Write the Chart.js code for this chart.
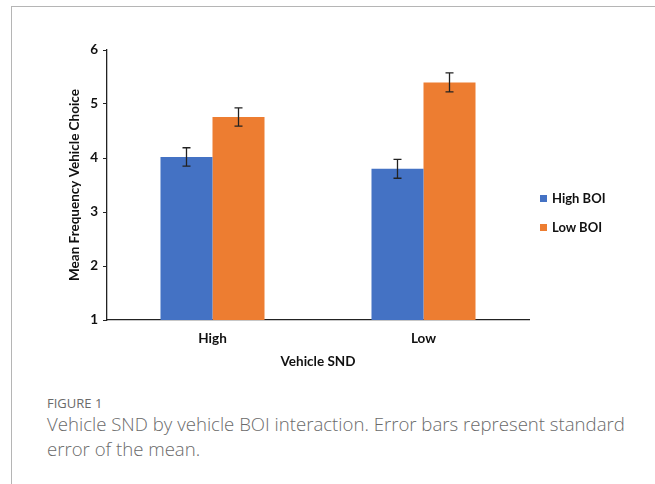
<!DOCTYPE html>
<html>
<head>
<meta charset="utf-8">
<script src="https://cdn.jsdelivr.net/npm/chart.js@4/dist/chart.umd.min.js"></script>
<style>
  html, body { margin: 0; padding: 0; background: #fff; }
  body { width: 655px; height: 484px; position: relative; overflow: hidden; }
  #frameTop { position: absolute; left: 11px; top: 6px; width: 644px; height: 0; border-top: 1.5px solid #b5b5b5; }
  #frameLeft { position: absolute; left: 11px; top: 6px; width: 0; height: 478px; border-left: 1.5px solid #b5b5b5; }
  #wrap { position: absolute; left: 0; top: 0; width: 655px; height: 380px; }
  .leg { position: absolute; font: bold 13px Lato, "Liberation Sans", sans-serif; color: #111; display: flex; align-items: center; height: 16px; }
  .leg span.sw { display: inline-block; width: 7px; height: 7px; margin-right: 5px; }
  #figlabel { position: absolute; left: 47px; top: 394px; font: 13px "Open Sans", sans-serif; color: #6a6a6a; }
  #caption { position: absolute; left: 47px; top: 411px; width: 595px; font: 300 18.6px/25px "Open Sans", sans-serif; color: #6a6a6a; }
</style>
</head>
<body>
<div id="frameTop"></div>
<div id="frameLeft"></div>
<div id="wrap"><canvas id="c" width="655" height="380"></canvas></div>
<div id="legend"></div>
<div id="figlabel">FIGURE 1</div>
<div id="caption">Vehicle SND by vehicle BOI interaction. Error bars represent standard error of the mean.</div>
<script>
const categories = ["High", "Low"];
const seriesNames = ["High BOI", "Low BOI"];
const highBOI = [4.02, 3.80];
const lowBOI = [4.76, 5.40];
const highBOIErr = [0.17, 0.175];
const lowBOIErr = [0.17, 0.175];
const yTicks = [1, 2, 3, 4, 5, 6];
const colors = ["#4472C4", "#ED7D31"];

const errors = [highBOIErr, lowBOIErr];

// HTML legend
const legendEl = document.getElementById('legend');
seriesNames.forEach((n, i) => {
  const d = document.createElement('div');
  d.className = 'leg';
  d.style.left = '540px';
  d.style.top = (190 + i * 29) + 'px';
  d.innerHTML = '<span class="sw" style="background:' + colors[i] + '"></span>' + n;
  legendEl.appendChild(d);
});

const errorBarPlugin = {
  id: 'errorBars',
  afterDatasetsDraw(chart) {
    const ctx = chart.ctx;
    const y = chart.scales.y;
    chart.data.datasets.forEach((ds, di) => {
      const meta = chart.getDatasetMeta(di);
      meta.data.forEach((bar, i) => {
        const v = ds.data[i], e = errors[di][i];
        const x = bar.x;
        const yt = y.getPixelForValue(v + e), yb = y.getPixelForValue(v - e);
        ctx.save();
        ctx.strokeStyle = '#222';
        ctx.lineWidth = 1.3;
        ctx.beginPath();
        ctx.moveTo(x, yt); ctx.lineTo(x, yb);
        ctx.moveTo(x - 4, yt); ctx.lineTo(x + 4, yt);
        ctx.moveTo(x - 4, yb); ctx.lineTo(x + 4, yb);
        ctx.stroke();
        ctx.restore();
      });
    });
  }
};

const tickFont = { family: "Lato, 'Liberation Sans', sans-serif", size: 13.5, weight: 'bold' };

new Chart(document.getElementById('c'), {
  type: 'bar',
  data: {
    labels: categories,
    datasets: [
      { label: seriesNames[0], data: highBOI, backgroundColor: colors[0], categoryPercentage: 0.493, barPercentage: 1.0 },
      { label: seriesNames[1], data: lowBOI, backgroundColor: colors[1], categoryPercentage: 0.493, barPercentage: 1.0 }
    ]
  },
  options: {
    responsive: false,
    animation: false,
    layout: { padding: { left: 62, top: 50, right: 126, bottom: 0 } },
    plugins: { legend: { display: false }, tooltip: { enabled: false } },
    scales: {
      x: {
        grid: { display: false, drawTicks: false },
        border: { display: true, color: '#222', width: 1.3 },
        ticks: { font: tickFont, color: '#111', padding: 11 },
        title: { display: true, text: 'Vehicle SND', font: tickFont, color: '#111', padding: { top: 4, bottom: 10 } },
        afterFit: s => { s.height = 60; }
      },
      y: {
        min: 1, max: 6,
        afterBuildTicks: s => { s.ticks = yTicks.map(v => ({ value: v })); },
        grid: { drawOnChartArea: false, drawTicks: true, tickLength: 4, color: '#222' },
        border: { display: true, color: '#222', width: 1.3 },
        ticks: { font: tickFont, color: '#111', padding: 5 },
        title: { display: true, text: 'Mean Frequency Vehicle Choice', font: tickFont, color: '#111', padding: { top: 5, bottom: 4 } },
        afterFit: s => { s.width = 45; }
      }
    }
  },
  plugins: [errorBarPlugin]
});
</script>
</body>
</html>
